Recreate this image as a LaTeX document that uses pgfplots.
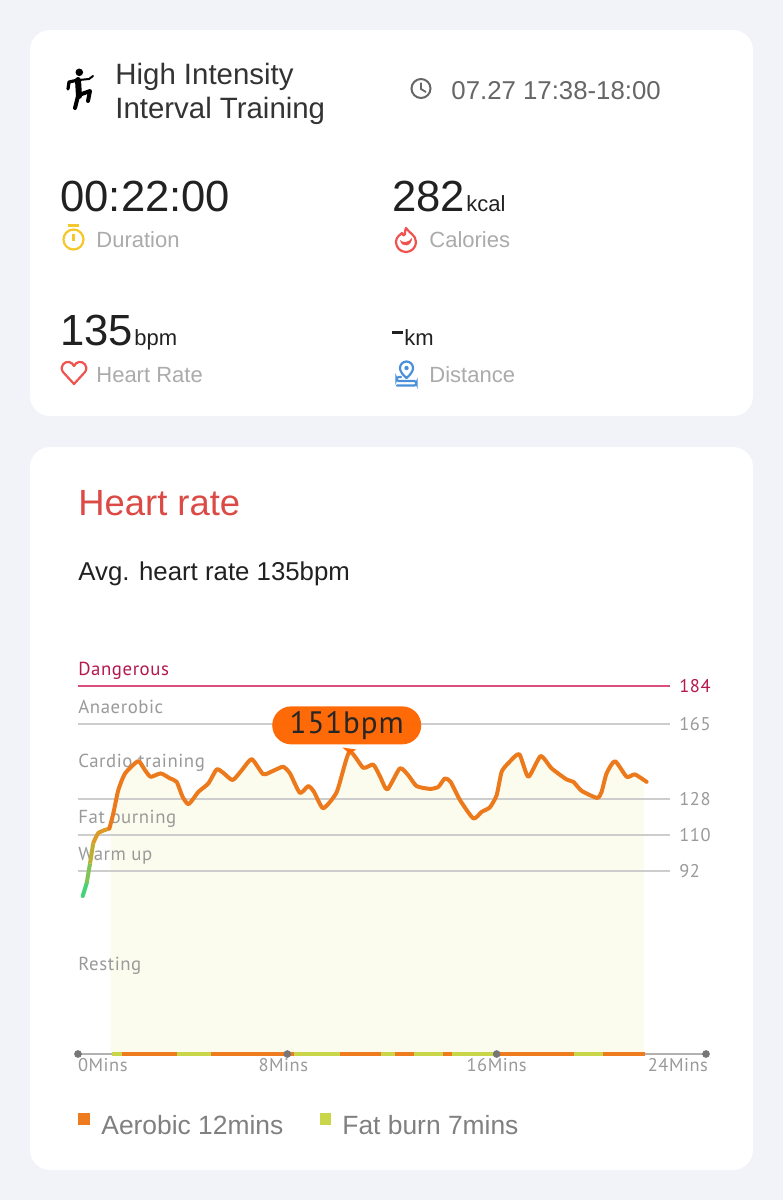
\documentclass[border=0pt]{standalone}
\usepackage{fontspec}
\usepackage{pgfplots}
\pgfplotsset{compat=1.18}
\usepackage{pgfplotstable}
\setmainfont{Liberation Sans}
\newfontfamily\din{PT Sans}[LetterSpace=3]
\definecolor{bgc}{HTML}{F2F3F8}
\definecolor{curve}{HTML}{EC7A1C}
\definecolor{pill}{HTML}{FF6600}
\definecolor{zoneF}{HTML}{C9D64A}
\definecolor{zoneA}{HTML}{EE7B1E}
\definecolor{paley}{HTML}{FCFCEE}
\definecolor{gridg}{HTML}{CDCDCD}
\definecolor{lab}{HTML}{9A9A9A}
\definecolor{dang}{HTML}{B5174F}
\definecolor{dangl}{HTML}{D9507E}
\definecolor{tgray}{HTML}{ABABAB}
\definecolor{redt}{HTML}{DB4A44}
\definecolor{swc}{HTML}{F4C82A}
\definecolor{flc}{HTML}{EF5350}
\definecolor{pinc}{HTML}{4A90D9}
\definecolor{dotg}{HTML}{777777}
\pgfplotstableread{
t v
0.18 79.6
0.33 85.9
}\segA
\pgfplotstableread{
t v
0.33 85.9
0.46 95.8
}\segB
\pgfplotstableread{
t v
0.46 95.8
0.58 105.8
}\segC
\pgfplotstableread{
t v
0.58 105.8
0.78 111
1.20 113.2
}\segD
\pgfplotstableread{
t v
1.20 113.2
1.35 120.7
1.54 132.3
1.80 140.6
2.30 146.7
2.56 142.2
2.78 138.9
3.16 140.6
3.52 138.1
3.77 136.4
4.00 128.9
4.23 125.3
4.60 131.4
4.98 135.6
5.30 142.6
5.55 140.9
5.91 137.3
6.26 142.2
6.64 147.7
7.08 140.2
7.46 141.9
7.84 143.9
8.10 140.6
8.48 130.9
8.80 134.3
9.02 131.4
9.37 123.3
9.89 131.4
10.37 151.3
10.90 143.4
11.28 145
11.54 139.2
11.82 132.6
12.30 143.1
12.62 139.7
12.94 134.3
13.45 132.9
13.77 133.9
14.02 138.1
14.24 136.4
14.60 127.3
15.11 118.2
15.43 121.5
15.74 123.7
16.00 129.8
16.19 141.4
16.44 145.6
16.86 150.2
17.21 138.9
17.68 149.2
18.10 143.1
18.67 137.6
18.93 136.4
19.25 131.9
19.84 128.4
20.01 131.4
20.20 140.6
20.52 146.7
20.97 138.9
21.28 140.1
21.73 136.4
}\segE
\pgfplotstableread{
t v
1.25 116
1.35 120.7
1.54 132.3
1.80 140.6
2.30 146.7
2.56 142.2
2.78 138.9
3.16 140.6
3.52 138.1
3.77 136.4
4.00 128.9
4.23 125.3
4.60 131.4
4.98 135.6
5.30 142.6
5.55 140.9
5.91 137.3
6.26 142.2
6.64 147.7
7.08 140.2
7.46 141.9
7.84 143.9
8.10 140.6
8.48 130.9
8.80 134.3
9.02 131.4
9.37 123.3
9.89 131.4
10.37 151.3
10.90 143.4
11.28 145
11.54 139.2
11.82 132.6
12.30 143.1
12.62 139.7
12.94 134.3
13.45 132.9
13.77 133.9
14.02 138.1
14.24 136.4
14.60 127.3
15.11 118.2
15.43 121.5
15.74 123.7
16.00 129.8
16.19 141.4
16.44 145.6
16.86 150.2
17.21 138.9
17.68 149.2
18.10 143.1
18.67 137.6
18.93 136.4
19.25 131.9
19.84 128.4
20.01 131.4
20.20 140.6
20.52 146.7
20.97 138.9
21.28 140.1
21.63 137
}\segFill
\newcommand{\T}[5]{\node[anchor=base west,inner sep=0pt,text=#4,font=\fontsize{#3}{#3}\selectfont] at (#1,#2) {#5};}
\begin{document}
\begin{tikzpicture}[x=0.5pt,y=-0.5pt]
\path[use as bounding box,fill=bgc] (0,0) rectangle (783,1200);
\fill[white,rounded corners=10pt] (30,30) rectangle (753,416);
\fill[white,rounded corners=10pt] (30,447) rectangle (753,1170);
% header text
\T{115}{84}{14.7}{black!80}{High Intensity}
\T{115}{118}{14.7}{black!80}{Interval Training}
\T{451}{99}{12.9}{black!60}{07.27 17:38-18:00}
\T{60}{211}{21.8}{black!87}{00:22:00}
\T{96}{247}{11}{tgray}{Duration}
\T{392}{211}{21.8}{black!87}{282}
\T{466}{211}{11}{black!87}{kcal}
\T{429}{247}{11}{tgray}{Calories}
\T{60}{345}{21.8}{black!87}{135}
\T{134}{345}{11}{black!87}{bpm}
\T{96}{382}{11}{tgray}{Heart Rate}
\fill[black!87] (392,331) rectangle (403,334);
\T{404}{345}{11}{black!87}{km}
\T{429}{382}{11}{tgray}{Distance}
\T{78}{515}{18.2}{redt}{Heart rate}
\T{78}{580}{12.9}{black!87}{Avg. heart rate 135bpm}
% icons
\fill[black] (79.3,72.3) circle (3.8);
\draw[black,line width=3pt,line cap=round,line join=round] (78,80) -- (79,96);
\draw[black,line width=1.6pt,line cap=round,line join=round] (78,80) -- (69,82) -- (68,89);
\draw[black,line width=1pt,line cap=round,line join=round] (79,80) -- (89,79) -- (93,76);
\draw[black,line width=2pt,line cap=round,line join=round] (79,95) -- (90,91) -- (88,101);
\draw[black,line width=2pt,line cap=round,line join=round] (78,96) -- (75,108);
\draw[black!60,line width=1pt] (421,88.5) circle (9.5);
\draw[black!60,line width=0.9pt] (421,82.5) -- (421,89) -- (426,92);
\draw[swc,line width=1.1pt] (73.5,239.5) circle (10);
\draw[swc,line width=1.1pt] (68,225.5) -- (79,225.5);
\draw[swc,line width=1.1pt] (73.5,234) -- (73.5,241);
\draw[flc,line width=1.1pt,line join=round] (406,228) .. controls (409,233) and (416,235) .. (416,242) arc[start angle=0,end angle=180,radius=10] .. controls (396,237) and (400,235) .. (402,233) .. controls (403,236) and (405,236) .. (405,234) .. controls (405,232) and (405,230) .. (406,228) -- cycle;
\fill[flc] (400,240) .. controls (403,243) and (408,243) .. (412,238) .. controls (412,246) and (402,249) .. (400,240) -- cycle;
\draw[flc,line width=1.1pt,line join=round] (74,384) -- (63,372) .. controls (59,366) and (65,361) .. (69,362) .. controls (71,362) and (73,364) .. (74,366) .. controls (75,364) and (77,362) .. (79,362) .. controls (83,361) and (89,366) .. (85,372) -- cycle;
\draw[pinc,line width=1.1pt,line join=round] (406.5,378) .. controls (402,374) and (400,371) .. (400,368) arc[start angle=180,end angle=360,radius=6.5] .. controls (413,371) and (411,374) .. (406.5,378) -- cycle;
\fill[pinc] (406.5,368) circle (2.2);
\draw[pinc,line width=1.1pt,line cap=round,rounded corners=1.2pt] (401,377) -- (396.5,377) -- (396.5,381) -- (416.5,381) -- (416.5,385.5) -- (397,385.5);
% legend
\fill[zoneA] (78,1113) rectangle (90,1125);
\T{101}{1134}{13.2}{black!50}{Aerobic 12mins}
\fill[zoneF] (320,1113) rectangle (331,1125);
\T{342}{1134}{13.2}{black!50}{Fat burn 7mins}
\begin{axis}[
  at={(39pt,-527pt)},anchor=south west,
  scale only axis,width=314pt,height=200pt,
  xmin=0,xmax=24,ymin=1,ymax=200,
  clip=false,
  axis line style={draw=none},
  tick style={draw=none},
  xtick={0,8,16,24},
  xticklabels={\makebox[0pt][l]{0Mins},8Mins\hspace*{4pt},16Mins,\makebox[0pt][r]{24Mins\hspace*{-1pt}}},
  xtick pos=bottom,ytick pos=right,
  ytick={92,110,128,165,184},
  yticklabels={92,110,128,165,\textcolor{dang}{184}},
  yticklabel pos=right,
  x tick label style={font=\din\fontsize{9.2}{9.5}\selectfont,text=lab,inner sep=0pt,anchor=north,yshift=-2.2pt},
  y tick label style={font=\din\fontsize{9.2}{9.5}\selectfont,text=lab,inner sep=0pt,anchor=west,xshift=-13.5pt},
]
\addplot[draw=none,fill=paley,smooth,tension=0.35] table[x=t,y=v] {\segFill} \closedcycle;
\addplot[gridg,line width=1pt] coordinates {(0,92) (22.62,92)};
\addplot[gridg,line width=1pt] coordinates {(0,110) (22.62,110)};
\addplot[gridg,line width=1pt] coordinates {(0,128) (22.62,128)};
\addplot[gridg,line width=1pt] coordinates {(0,165) (22.62,165)};
\addplot[dangl,line width=0.9pt] coordinates {(0,184) (22.62,184)};
% labels
\node[anchor=base west,inner sep=0pt,text=dang,font=\din\fontsize{9.4}{10}\selectfont] at (axis cs:0,189.5) {Dangerous};
\node[anchor=base west,inner sep=0pt,text=lab,font=\din\fontsize{9.4}{10}\selectfont] at (axis cs:0,170.5) {Anaerobic};
\node[anchor=base west,inner sep=0pt,text=lab,font=\din\fontsize{9.4}{10}\selectfont] at (axis cs:0,143.5) {Cardio training};
\node[anchor=base west,inner sep=0pt,text=lab,font=\din\fontsize{9.4}{10}\selectfont] at (axis cs:0,115.5) {Fat burning};
\node[anchor=base west,inner sep=0pt,text=lab,font=\din\fontsize{9.4}{10}\selectfont] at (axis cs:0,97.5) {Warm up};
\node[anchor=base west,inner sep=0pt,text=lab,font=\din\fontsize{9.4}{10}\selectfont] at (axis cs:0,42.5) {Resting};
% baseline
\addplot[black!30,line width=0.9pt] coordinates {(0,1) (24,1)};
\addplot[zoneF,line width=1.7pt] coordinates {(1.29,1) (1.67,1)};
\addplot[zoneA,line width=1.7pt] coordinates {(1.67,1) (3.78,1)};
\addplot[zoneF,line width=1.7pt] coordinates {(3.78,1) (5.08,1)};
\addplot[zoneA,line width=1.7pt] coordinates {(5.08,1) (8.25,1)};
\addplot[zoneF,line width=1.7pt] coordinates {(8.25,1) (10.02,1)};
\addplot[zoneA,line width=1.7pt] coordinates {(10.02,1) (11.59,1)};
\addplot[zoneF,line width=1.7pt] coordinates {(11.59,1) (12.12,1)};
\addplot[zoneA,line width=1.7pt] coordinates {(12.12,1) (12.83,1)};
\addplot[zoneF,line width=1.7pt] coordinates {(12.83,1) (13.96,1)};
\addplot[zoneA,line width=1.7pt] coordinates {(13.96,1) (14.31,1)};
\addplot[zoneF,line width=1.7pt] coordinates {(14.31,1) (15.98,1)};
\addplot[zoneA,line width=1.7pt] coordinates {(15.98,1) (18.97,1)};
\addplot[zoneF,line width=1.7pt] coordinates {(18.97,1) (20.08,1)};
\addplot[zoneA,line width=1.7pt] coordinates {(20.08,1) (21.67,1)};
\addplot[only marks,color=dotg,mark=*,mark size=1.7pt,mark options={solid,fill=dotg,draw=dotg}] coordinates {(0,1) (8,1) (16,1) (24,1)};
% curve
\addplot[color={rgb,255:red,70;green,210;blue,120},line width=2pt,smooth,line cap=round] table[x=t,y=v] {\segA};
\addplot[color={rgb,255:red,130;green,195;blue,85},line width=2pt,smooth] table[x=t,y=v] {\segB};
\addplot[color={rgb,255:red,190;green,175;blue,50},line width=2pt,smooth] table[x=t,y=v] {\segC};
\addplot[color={rgb,255:red,220;green,155;blue,40},line width=2pt,smooth,tension=0.35] table[x=t,y=v] {\segD};
\addplot[curve,line width=2pt,smooth,tension=0.35,line cap=round,line join=round] table[x=t,y=v] {\segE};
% tooltip
\fill[pill,fill opacity=0.97] (axis cs:10.37,150.5) -- ++(-3.5pt,3pt) -- ++(7pt,0) -- cycle;
\node[fill=pill,fill opacity=0.97,text opacity=1,rounded corners=9.5pt,minimum width=74.5pt,minimum height=19pt,inner sep=0pt,text=black!85,font=\din\fontsize{15.5}{16}\selectfont] at (axis cs:10.27,164.5) {151bpm};
\end{axis}
\end{tikzpicture}
\end{document}
